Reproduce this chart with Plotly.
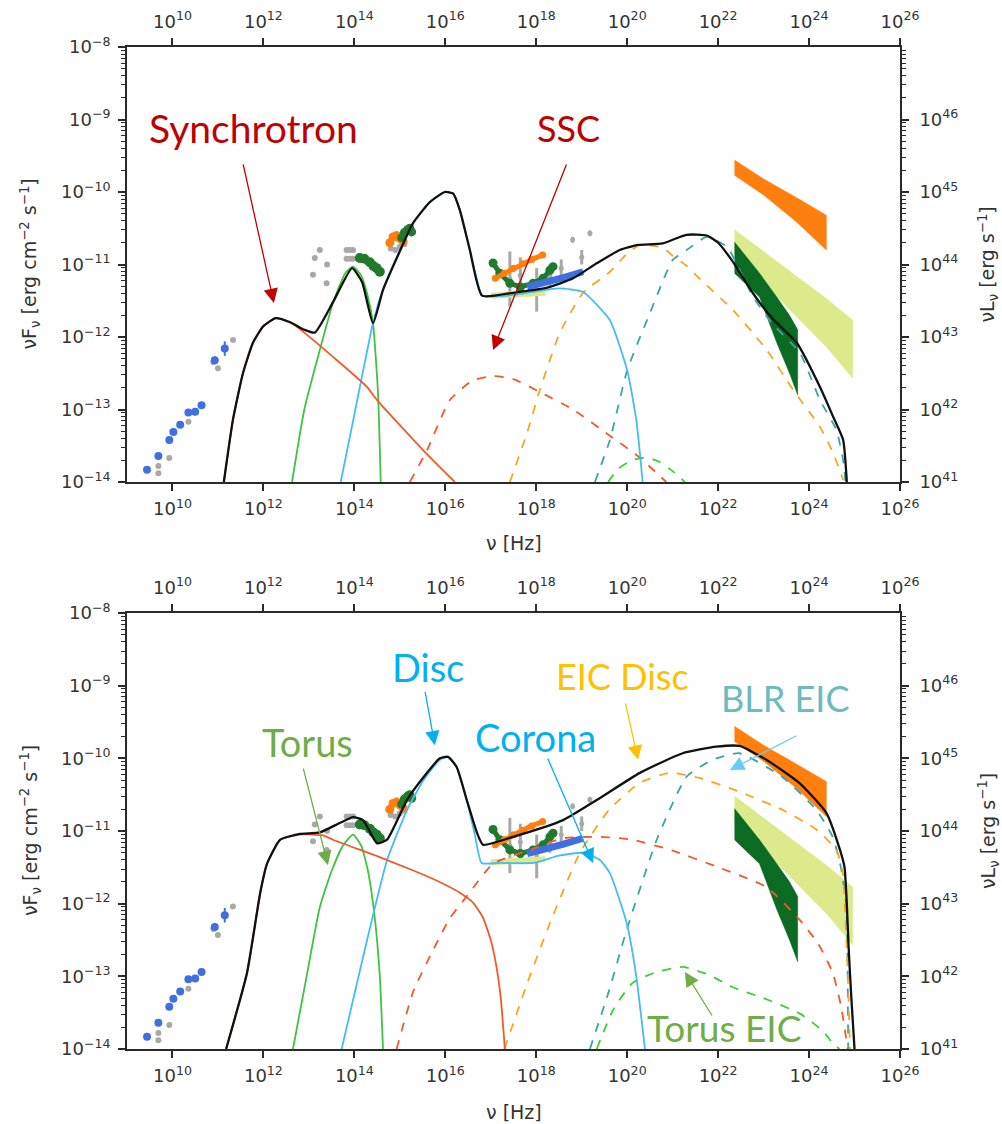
import numpy as np
import plotly.graph_objects as go

# ---------------- data (log10 values) ----------------
x_tick_exp = [10, 12, 14, 16, 18, 20, 22, 24, 26]
yl_tick_exp = [-14, -13, -12, -11, -10, -9, -8]
yr_tick_exp = [41, 42, 43, 44, 45, 46]

# ---- top panel (SSC scenario) model curves ----
tot1_x = [11.13, 11.33, 11.55, 11.77, 12.0, 12.27, 12.6, 12.9, 13.13, 13.53, 13.95, 14.17, 14.41, 14.63, 14.94,
          15.29, 15.66, 15.99, 16.17, 16.32, 16.54, 16.81, 17.49, 18.24, 18.81, 19.34, 19.84, 20.24, 20.78, 21.3,
          21.75, 22.0, 22.3, 22.77, 23.2, 23.73, 24.24, 24.53, 24.75, 24.83]
tot1_y = [-14, -13.14, -12.5, -12.08, -11.85, -11.74, -11.8, -11.9, -11.94, -11.52, -11.05, -11.24, -11.81, -11.35,
          -10.9, -10.43, -10.14, -10.0, -10.02, -10.25, -10.8, -11.43, -11.39, -11.32, -11.19, -10.98, -10.8, -10.73,
          -10.71, -10.59, -10.6, -10.7, -10.94, -11.4, -11.75, -12.08, -12.69, -13.1, -13.42, -14]
syn1_x = [11.13, 11.33, 11.55, 11.77, 12.0, 12.27, 12.6, 12.96, 14.28, 14.5, 15.51, 16.21]
syn1_y = [-14, -13.14, -12.5, -12.08, -11.85, -11.74, -11.8, -11.97, -12.69, -12.87, -13.56, -14]
tor1_x = [12.63, 12.9, 13.24, 13.53, 13.8, 13.97, 14.15, 14.28, 14.41, 14.52, 14.58]
tor1_y = [-14, -13.0, -12.18, -11.53, -11.12, -11.03, -11.15, -11.4, -11.81, -12.77, -14]
dsc1_x = [13.7, 14.0, 14.41, 14.63, 14.94, 15.29, 15.66, 15.99, 16.17, 16.32, 16.54, 16.81, 17.0, 17.5, 18.0,
          18.5, 19.03, 19.62, 20.0, 20.2, 20.34]
dsc1_y = [-14, -13.07, -11.81, -11.35, -10.9, -10.43, -10.14, -10.0, -10.02, -10.25, -10.8, -11.43, -11.44, -11.42,
          -11.37, -11.33, -11.38, -11.77, -12.46, -13.14, -14]
ssc1_x = [15.22, 15.6, 16.1, 16.6, 17.05, 17.5, 18.08, 18.81, 19.55, 20.27, 20.86]
ssc1_y = [-14, -13.56, -12.87, -12.6, -12.54, -12.58, -12.76, -13.0, -13.33, -13.66, -14]
eic1_x = [17.42, 17.8, 18.08, 18.52, 19.03, 19.62, 20.0, 20.28, 20.79, 21.0, 21.31, 21.6, 22.33, 23.07, 23.65,
          24.24, 24.53, 24.75]
eic1_y = [-14, -13.32, -12.73, -11.94, -11.39, -11.1, -10.85, -10.73, -10.77, -10.88, -11.02, -11.2, -11.63,
          -12.18, -12.73, -13.24, -13.6, -13.97]
blr1_x = [19.29, 19.62, 20.0, 20.5, 21.0, 21.31, 21.75, 22.2, 22.77, 23.2, 23.8, 24.24, 24.6, 24.75, 24.8]
blr1_y = [-14, -13.42, -12.46, -11.67, -10.94, -10.8, -10.62, -10.76, -11.45, -11.82, -12.22, -12.87, -13.28,
          -13.7, -14]
teic1_x = [19.58, 19.8, 20.1, 20.42, 20.7, 21.0, 21.27]
teic1_y = [-14, -13.82, -13.7, -13.66, -13.72, -13.85, -14]

# ---- bottom panel (EIC scenario) model curves ----
tot2_x = [11.18, 11.64, 11.93, 12.08, 12.37, 12.8, 13.24, 13.68, 13.97, 14.19, 14.5, 14.72, 15.16, 15.52, 15.88,
          16.06, 16.25, 16.47, 16.7, 16.83, 17.49, 18.59, 19.34, 20.28, 21.22, 21.96, 22.47, 23.06, 23.79, 24.38,
          24.68, 24.78, 24.83, 24.87, 24.93, 25.0]
tot2_y = [-14, -12.95, -11.85, -11.45, -11.12, -11.04, -11.02, -10.89, -10.81, -10.85, -11.17, -11.12, -10.57,
          -10.26, -10.0, -9.98, -10.12, -10.57, -11.03, -11.19, -11.08, -10.85, -10.57, -10.2, -9.93, -9.84, -9.83,
          -10.02, -10.34, -10.75, -11.26, -11.5, -12.0, -12.6, -13.3, -14]
syn2_x = [11.18, 11.64, 11.93, 12.08, 12.37, 12.8, 13.31, 13.53, 14.56, 15.2, 15.66, 16.0, 16.32, 16.6, 16.82,
          17.0, 17.12, 17.22, 17.31]
syn2_y = [-14, -12.95, -11.85, -11.45, -11.12, -11.05, -11.06, -11.12, -11.36, -11.52, -11.64, -11.74, -11.85,
          -11.98, -12.18, -12.5, -12.85, -13.3, -14]
tor2_x = [12.65, 12.95, 13.24, 13.5, 13.75, 13.97, 14.15, 14.3, 14.45, 14.56, 14.63]
tor2_y = [-14, -13.0, -12.05, -11.55, -11.2, -11.05, -11.2, -11.55, -12.2, -13.0, -14]
dsc2_x = [13.72, 14.28, 14.72, 15.16, 15.52, 15.88, 16.06, 16.25, 16.47, 16.65, 16.8, 17.2, 17.93, 18.5, 19.03,
          19.4, 19.62, 19.99, 20.2, 20.39]
dsc2_y = [-14, -12.5, -11.4, -10.71, -10.3, -10.02, -9.98, -10.12, -10.57, -11.05, -11.44, -11.44, -11.44, -11.34,
          -11.3, -11.4, -11.58, -12.27, -13.0, -14]
ssc2_x = [14.93, 15.3, 15.73, 16.1, 16.47, 17.05, 17.86, 18.59, 19.4, 20.12, 21.0, 21.96, 23.06, 23.79, 24.2,
          24.52, 24.7, 24.85]
ssc2_y = [-14, -13.2, -12.64, -12.2, -11.9, -11.45, -11.26, -11.1, -11.08, -11.12, -11.27, -11.49, -11.77, -12.22,
          -12.55, -12.95, -13.4, -14]
eic2_x = [17.3, 17.8, 18.3, 18.96, 19.6, 20.27, 20.93, 21.59, 22.47, 23.42, 24.16, 24.6, 24.74, 24.8, 24.85, 24.9]
eic2_y = [-14, -13.1, -12.27, -11.3, -10.71, -10.34, -10.2, -10.27, -10.46, -10.71, -10.98, -11.26, -11.58, -12.2,
          -12.95, -14]
blr2_x = [19.18, 19.6, 19.99, 20.65, 21.31, 21.88, 22.47, 23.42, 24.16, 24.52, 24.7, 24.82, 24.86]
blr2_y = [-14, -13.2, -12.36, -11.12, -10.25, -10.02, -9.93, -10.26, -10.71, -11.08, -11.5, -12.04, -14]
teic2_x = [19.33, 19.7, 20.12, 20.6, 21.22, 21.8, 22.32, 23.0, 23.79, 24.3, 24.52, 24.67]
teic2_y = [-14, -13.45, -13.09, -12.95, -12.87, -12.98, -13.15, -13.3, -13.51, -13.75, -13.92, -14]

# ---- observational data (same in both panels) ----
radio_blue_x = [9.44, 9.69, 9.93, 10.02, 10.17, 10.35, 10.5, 10.64, 10.93, 11.15]
radio_blue_y = [-13.83, -13.64, -13.42, -13.31, -13.21, -13.04, -13.03, -12.94, -12.32, -12.16]
radio_blue_err = [0, 0, 0, 0, 0, 0, 0, 0, 0.05, 0.1]
radio_grey_x = [9.69, 9.69, 9.93, 10.35, 10.9, 11.0, 11.33]
radio_grey_y = [-13.78, -13.88, -13.67, -13.17, -12.35, -12.43, -12.04]
ir_grey_x = [13.09, 13.13, 13.24, 13.39, 13.4, 13.83, 13.9, 13.97, 13.83, 13.9, 13.97]
ir_grey_y = [-11.14, -10.91, -10.8, -11.26, -11.0, -10.8, -10.8, -10.8, -10.92, -10.92, -10.92]
ir_green_x = [14.12, 14.22, 14.34, 14.42, 14.49, 14.56]
ir_green_y = [-10.91, -10.92, -10.97, -11.02, -11.05, -11.1]
opt_grey_x = [14.8, 14.9, 15.0, 15.1]
opt_grey_y = [-10.78, -10.8, -10.76, -10.72]
opt_orange_x = [14.78, 14.85, 14.93, 15.0, 15.07]
opt_orange_y = [-10.70, -10.62, -10.6, -10.64, -10.68]
opt_green_x = [15.04, 15.1, 15.17, 15.22, 15.26]
opt_green_y = [-10.63, -10.56, -10.52, -10.5, -10.55]
xr_grey_x = [17.42, 17.65, 18.01, 18.3, 18.55, 18.8, 19.0, 19.18]
xr_grey_y = [-11.2, -11.15, -11.35, -11.15, -11.05, -10.66, -10.9, -10.57]
xr_grey_err = [0.38, 0.25, 0.3, 0.15, 0.12, 0.04, 0.1, 0.04]
xr_green_x = [17.05, 17.2, 17.42, 17.65, 17.93, 18.15, 18.3, 18.37]
xr_green_y = [-10.98, -11.12, -11.26, -11.31, -11.26, -11.19, -11.08, -11.03]
xr_orange_x = [17.1, 17.3, 17.5, 17.7, 17.9, 18.14]
xr_orange_y = [-11.19, -11.12, -11.05, -10.99, -10.93, -10.87]
xr_blue_x = [17.8, 18.2, 18.6, 19.03]
xr_blue_y = [-11.31, -11.25, -11.18, -11.10]
xr_lime_x = [17.0, 17.6, 18.2]
xr_lime_y = [-11.43, -11.41, -11.39]

# gamma-ray bow-ties (upper / lower edges)
bt_orange_x = [22.36, 23.0, 23.7, 24.38]
bt_orange_up = [-9.56, -9.82, -10.07, -10.32]
bt_orange_lo = [-9.77, -10.04, -10.4, -10.80]
bt_lime_x = [22.36, 23.0, 23.7, 24.4, 24.96]
bt_lime_up = [-10.52, -10.82, -11.15, -11.48, -11.77]
bt_lime_lo = [-10.85, -11.25, -11.7, -12.15, -12.57]
bt_dkgrn_x = [22.36, 22.91, 23.29, 23.57, 23.75]
bt_dkgrn_up = [-10.69, -11.12, -11.45, -11.7, -11.9]
bt_dkgrn_lo = [-11.12, -11.45, -12.08, -12.5, -12.80]

# labels
labels_top = ["Synchrotron", "SSC"]
labels_bot = ["Torus", "Disc", "Corona", "EIC Disc", "BLR EIC", "Torus EIC"]

# ---------------- figure ----------------
def P(a):
    return [10.0 ** v for v in a]

C_SYN = "#f25a2c"
C_TOR = "#3ec43e"
C_DSC = "#45bdf2"
C_EIC = "#f5a623"
C_BLR = "#3aa5a5"
C_TEIC = "#3ccf3c"

fig = go.Figure()

def add_panel(xa, ya, curves):
    (tx, ty, sx, sy, trx, try_, dx, dy, ssx, ssy, ex, ey, bx, by, gx, gy) = curves
    for bxs, up, lo, col in [(bt_orange_x, bt_orange_up, bt_orange_lo, "#ff7f0e"),
                             (bt_lime_x, bt_lime_up, bt_lime_lo, "#dcea8c"),
                             (bt_dkgrn_x, bt_dkgrn_up, bt_dkgrn_lo, "#0c6b22")]:
        fig.add_trace(go.Scatter(x=P(bxs + bxs[::-1]), y=P(up + lo[::-1]), mode="lines", fill="toself",
                                 fillcolor=col, line=dict(color=col, width=0.5), xaxis=xa, yaxis=ya,
                                 showlegend=False, hoverinfo="skip"))
    fig.add_trace(go.Scatter(x=P(radio_grey_x + ir_grey_x + opt_grey_x), y=P(radio_grey_y + ir_grey_y + opt_grey_y),
                             mode="markers", marker=dict(color="#a8a8a8", size=6), xaxis=xa, yaxis=ya,
                             showlegend=False))
    eu = [10 ** (v + e) - 10 ** v for v, e in zip(xr_grey_y, xr_grey_err)]
    el = [10 ** v - 10 ** (v - e) for v, e in zip(xr_grey_y, xr_grey_err)]
    fig.add_trace(go.Scatter(x=P(xr_grey_x), y=P(xr_grey_y), mode="markers", marker=dict(color="#a8a8a8", size=5),
                             error_y=dict(type="data", array=eu, arrayminus=el, color="#a8a8a8", thickness=3, width=0),
                             xaxis=xa, yaxis=ya, showlegend=False))
    fig.add_trace(go.Scatter(x=P(xr_lime_x), y=P(xr_lime_y), mode="lines", line=dict(color="#dcea8c", width=6),
                             xaxis=xa, yaxis=ya, showlegend=False))
    ru = [10 ** (v + e) - 10 ** v for v, e in zip(radio_blue_y, radio_blue_err)]
    rl = [10 ** v - 10 ** (v - e) for v, e in zip(radio_blue_y, radio_blue_err)]
    fig.add_trace(go.Scatter(x=P(radio_blue_x), y=P(radio_blue_y), mode="markers",
                             marker=dict(color="#3f6fe0", size=8),
                             error_y=dict(type="data", array=ru, arrayminus=rl, color="#3f6fe0", thickness=2, width=0),
                             xaxis=xa, yaxis=ya, showlegend=False))
    for xs, ys, col, sz in [(ir_green_x, ir_green_y, "#1f7a2e", 10), (opt_orange_x, opt_orange_y, "#ff7f0e", 9),
                            (opt_green_x, opt_green_y, "#1f7a2e", 9), (xr_green_x, xr_green_y, "#1f7a2e", 9),
                            (xr_orange_x, xr_orange_y, "#ff7f0e", 7)]:
        fig.add_trace(go.Scatter(x=P(xs), y=P(ys), mode="lines+markers", line=dict(color=col, width=5),
                                 marker=dict(color=col, size=sz), xaxis=xa, yaxis=ya, showlegend=False))
    fig.add_trace(go.Scatter(x=P(xr_blue_x), y=P(xr_blue_y), mode="lines", line=dict(color="#3f6fe0", width=7),
                             xaxis=xa, yaxis=ya, showlegend=False))
    comps = [(gx, gy, C_TEIC, "dash"), (bx, by, C_BLR, "dash"), (ex, ey, C_EIC, "dash"),
             (ssx, ssy, C_SYN, "dash"), (trx, try_, C_TOR, "solid"), (dx, dy, C_DSC, "solid"),
             (sx, sy, C_SYN, "solid")]
    for xs, ys, col, dash in comps:
        fig.add_trace(go.Scatter(x=P(xs), y=P(ys), mode="lines", line=dict(color=col, width=1.8, dash=dash,
                                 shape="spline", smoothing=0.5), xaxis=xa, yaxis=ya, showlegend=False,
                                 hoverinfo="skip"))
    fig.add_trace(go.Scatter(x=P(tx), y=P(ty), mode="lines", line=dict(color="#111111", width=2.3, shape="spline",
                             smoothing=0.5), xaxis=xa, yaxis=ya, showlegend=False))

add_panel("x", "y", (tot1_x, tot1_y, syn1_x, syn1_y, tor1_x, tor1_y, dsc1_x, dsc1_y, ssc1_x, ssc1_y,
                     eic1_x, eic1_y, blr1_x, blr1_y, teic1_x, teic1_y))
add_panel("x3", "y3", (tot2_x, tot2_y, syn2_x, syn2_y, tor2_x, tor2_y, dsc2_x, dsc2_y, ssc2_x, ssc2_y,
                       eic2_x, eic2_y, blr2_x, blr2_y, teic2_x, teic2_y))

# invisible anchors for the secondary (top / right) axes
for xa, ya in [("x2", "y2"), ("x4", "y4")]:
    fig.add_trace(go.Scatter(x=[10.0 ** x_tick_exp[0]], y=[10.0 ** yr_tick_exp[0]], mode="markers",
                             marker=dict(opacity=0), xaxis=xa, yaxis=ya, showlegend=False, hoverinfo="skip"))

# ---------------- axes ----------------
W, H = 1002, 1124
XD = [127 / W, 900 / W]
YD_TOP = [(H - 482) / H, (H - 47) / H]
YD_BOT = [(H - 1049) / H, (H - 613) / H]
TF = dict(family="DejaVu Sans", size=18, color="#333333")
LC = "#2a2a2a"

def sup(e):
    s = str(e).replace("-", "\u2212")
    return "10<sup>%s</sup>" % s

common_x = dict(type="log", range=[9, 26], domain=XD, ticks="outside", ticklen=7, tickwidth=1.5, tickcolor=LC,
                showline=True, linewidth=1.6, linecolor=LC, showgrid=False, zeroline=False, tickfont=TF,
                automargin=False, ticklabelstandoff=3,
                tickmode="array", tickvals=[10.0 ** e for e in x_tick_exp], ticktext=[sup(e) for e in x_tick_exp])
minor_l = [k * 10.0 ** e for e in range(-14, -8) for k in range(2, 10)]
minor_r = [k * 10.0 ** e for e in range(41, 47) for k in range(2, 10)]
common_yl = dict(type="log", range=[-14, -8], ticks="outside", ticklen=7, tickwidth=1.5, tickcolor=LC,
                 showline=True, linewidth=1.6, linecolor=LC, showgrid=False, zeroline=False, tickfont=TF,
                 automargin=False, ticklabelstandoff=4,
                 tickmode="array", tickvals=[10.0 ** e for e in yl_tick_exp], ticktext=[sup(e) for e in yl_tick_exp],
                 minor=dict(tickmode="array", tickvals=minor_l, ticks="outside", ticklen=4, tickwidth=1,
                            tickcolor=LC))
common_yr = dict(type="log", range=[41, 47], ticks="outside", ticklen=7, tickwidth=1.5, tickcolor=LC,
                 showline=True, linewidth=1.6, linecolor=LC, showgrid=False, zeroline=False, tickfont=TF,
                 automargin=False, ticklabelstandoff=7,
                 tickmode="array", tickvals=[10.0 ** e for e in yr_tick_exp], ticktext=[sup(e) for e in yr_tick_exp],
                 minor=dict(tickmode="array", tickvals=minor_r, ticks="outside", ticklen=4, tickwidth=1,
                            tickcolor=LC), side="right")

fig.update_layout(
    width=W, height=H, margin=dict(l=0, r=0, t=0, b=0, autoexpand=False),
    paper_bgcolor="white", plot_bgcolor="white", showlegend=False,
    xaxis=dict(common_x, anchor="y"),
    xaxis2=dict(common_x, anchor="y", overlaying="x", side="top"),
    yaxis=dict(common_yl, domain=YD_TOP, anchor="x"),
    yaxis2=dict(common_yr, domain=YD_TOP, anchor="x", overlaying="y"),
    xaxis3=dict(common_x, anchor="y3"),
    xaxis4=dict(common_x, anchor="y3", overlaying="x3", side="top"),
    yaxis3=dict(common_yl, domain=YD_BOT, anchor="x3"),
    yaxis4=dict(common_yr, domain=YD_BOT, anchor="x3", overlaying="y3"),
)

# axis titles (placed as paper annotations)
AF = dict(family="DejaVu Sans", size=19, color="#333333")
x_title = "\u03bd [Hz]"
yl_title = "\u03bdF<sub>\u03bd</sub> [erg cm<sup>\u22122</sup> s<sup>\u22121</sup>]"
yr_title = "\u03bdL<sub>\u03bd</sub> [erg s<sup>\u22121</sup>]"
for yc_px, xt_px in [(264.5, 543), (831, 1112)]:
    fig.add_annotation(xref="paper", yref="paper", x=30 / W, y=1 - yc_px / H, text=yl_title, textangle=-90,
                       showarrow=False, xanchor="center", yanchor="middle", font=AF)
    fig.add_annotation(xref="paper", yref="paper", x=988 / W, y=1 - yc_px / H, text=yr_title, textangle=-90,
                       showarrow=False, xanchor="center", yanchor="middle", font=AF)
    fig.add_annotation(xref="paper", yref="paper", x=513.5 / W, y=1 - xt_px / H, text=x_title,
                       showarrow=False, xanchor="center", yanchor="middle", font=AF)

# ---------------- labels & arrows ----------------
LF = "Lato"
text_ann = [
    ("x", "y", 11.79, -9.12, labels_top[0], "#c00000", 39),
    ("x", "y", 18.72, -9.12, labels_top[1], "#c00000", 36),
    ("x3", "y3", 12.98, -9.78, labels_bot[0], "#70ad47", 38),
    ("x3", "y3", 15.62, -8.74, labels_bot[1], "#00b0f0", 38),
    ("x3", "y3", 17.99, -9.71, labels_bot[2], "#00b0f0", 38),
    ("x3", "y3", 19.89, -8.87, labels_bot[3], "#ffc000", 36),
    ("x3", "y3", 23.47, -9.17, labels_bot[4], "#6bbcbc", 36),
    ("x3", "y3", 22.13, -13.70, labels_bot[5], "#70ad47", 37),
]
for xr, yr, x, y, t, c, fs in text_ann:
    fig.add_annotation(xref=xr, yref=yr, x=x, y=y, text=t, showarrow=False, xanchor="center", yanchor="middle",
                       font=dict(family=LF, size=fs, color=c))

arrows = [
    ("x", "y", 12.23, -11.53, -31, -140, "#c00000"),
    ("x", "y", 17.05, -12.18, 74, -187, "#c00000"),
    ("x3", "y3", 13.42, -11.47, -25, -98, "#70ad47"),
    ("x3", "y3", 15.77, -9.82, -10, -55, "#00b0f0"),
    ("x3", "y3", 19.25, -11.44, -46, -106, "#00b0f0"),
    ("x3", "y3", 20.24, -10.02, -13, -58, "#ffc000"),
    ("x3", "y3", 22.26, -10.16, 68, -35, "#66ccf5"),
    ("x3", "y3", 21.27, -12.94, 28, 45, "#70ad47"),
]
for xr, yr, x, y, ax, ay, c in arrows:
    fig.add_annotation(xref=xr, yref=yr, x=x, y=y, ax=ax, ay=ay, text="", showarrow=True, arrowhead=2,
                       arrowsize=2.2, arrowwidth=1.3, arrowcolor=c)

fig.write_html("out.html")
